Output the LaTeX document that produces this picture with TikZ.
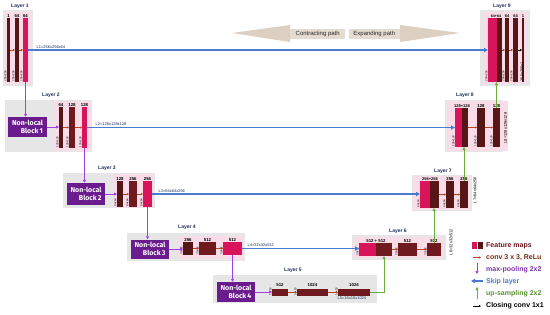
\documentclass[tikz,border=0pt]{standalone}
\usepackage{fontspec}
\setmainfont{Liberation Sans}
\newfontfamily\nlfont{Fira Sans}
\usetikzlibrary{arrows.meta}
\definecolor{boxgrey}{HTML}{E6E6E6}
\definecolor{halo}{HTML}{F9DCE7}
\definecolor{fdark}{HTML}{561616}
\definecolor{fmid}{HTML}{6E1A1E}
\definecolor{fcrim}{HTML}{D8145A}
\definecolor{nlpurple}{HTML}{6A1B8E}
\definecolor{poolc}{HTML}{A040E0}
\definecolor{skipc}{HTML}{4A7BD0}
\definecolor{upc}{HTML}{6AAE3A}
\definecolor{convc}{HTML}{B8441C}
\definecolor{navy}{HTML}{1E2C5C}
\definecolor{beige}{HTML}{DDCFC2}
\definecolor{beigel}{HTML}{E6DBD0}
\definecolor{legmaroon}{HTML}{6B1520}
\definecolor{legbrown}{HTML}{7A2A10}
\newcommand\fmbr[6]{\node[fmap,fill=#6,minimum width={(#4)-(#2)},minimum height={(#5)-(#3)}] (#1) at ({((#2)+(#4))/2},{((#3)+(#5))/2}) {};}
\newcommand\rlab[2]{\node[rotlab,anchor=south west] at (#1.south west) {#2};}
\newcommand\greybox[4]{\fill[boxgrey] (#1,#2) rectangle (#3,#4);}
\newcommand\halobox[4]{\fill[halo] (#1,#2) rectangle (#3,#4);}
\tikzset{
  fmap/.style={draw=none,inner sep=0pt,outer sep=0pt},
  layerlab/.style={font=\fontsize{5}{5}\selectfont\bfseries,text=navy,inner sep=0pt},
  numlab/.style={font=\fontsize{4.3}{4.3}\selectfont\bfseries,inner sep=0.4pt,anchor=south},
  cclab/.style={font=\fontsize{4}{4}\selectfont\bfseries,inner sep=0.4pt,anchor=south},
  llab/.style={font=\fontsize{4}{4}\selectfont,text=navy,inner sep=0.4pt},
  vlab/.style={font=\fontsize{4}{4}\selectfont,text=black,inner sep=0.4pt,rotate=90},
  rotlab/.style={font=\fontsize{2.8}{2.8}\selectfont,rotate=90,inner sep=0.3pt,text=black},
  nlb/.style={fill=nlpurple,text=white,font=\nlfont\bfseries\fontsize{7}{7.6}\selectfont,align=right,inner sep=1pt},
  poolline/.style={draw=poolc,line width=0.8pt,-{Triangle[length=3pt,width=3pt]}},
  skipline/.style={draw=skipc,line width=1.2pt,-{Triangle[length=4pt,width=4.2pt]}},
  upline/.style={draw=upc,line width=0.9pt,-{Triangle[length=3pt,width=3pt]}},
  convline/.style={draw=convc,line width=0.6pt,-{Triangle[length=2pt,width=2pt]}},
  closeline/.style={draw=black,line width=0.6pt,-{Triangle[length=2pt,width=2pt]}},
  legtext/.style={font=\fontsize{7}{7}\selectfont\bfseries,anchor=west,inner sep=0pt},
  pathlab/.style={fill=beigel,font=\fontsize{6}{6}\selectfont,text=black!85,inner sep=1pt,minimum height=10pt},
}
\begin{document}
\begin{tikzpicture}[x=1pt,y=-1pt]
\useasboundingbox (0,0) rectangle (550,314);
\fill[white] (0,0) rectangle (550,314);

% ---------- contracting / expanding arrows
\fill[beige] (232,33) -- (290,25) -- (290,42) -- cycle;
\fill[beige] (460,33) -- (400,25) -- (400,42) -- cycle;
\node[pathlab,anchor=west,minimum width=55pt] (contr) at (290,33.5) {Contracting path};
\node[pathlab,anchor=east,minimum width=51pt] (expa) at (400,33.5) {Expanding path};

% ---------- Layer 1
\greybox{3}{10}{33}{86}
\halobox{5}{12}{31}{84}
\node[layerlab] (lab1) at (20,6) {Layer 1};
\fmbr{b11}{7}{18}{10}{82}{fdark}
\fmbr{b12}{15}{18}{19}{82}{fdark}
\fmbr{b13}{23}{18}{28}{82}{fcrim}
\node[numlab] at (b11.north) {1};
\node[numlab] at (b12.north) {64};
\node[numlab] at (b13.north) {64};
\rlab{b11}{256x256}\rlab{b12}{256x256}\rlab{b13}{256x256}

% ---------- Layer 2
\greybox{5}{100}{92}{152}
\halobox{54}{101}{91}{151}
\node[layerlab] (lab2) at (51,95) {Layer 2};
\node[nlb,minimum width=39pt,minimum height=20pt] (nlb1) at (27.5,127) {Non-local\\Block\,1};
\fmbr{b21}{59}{107}{63}{148}{fdark}
\fmbr{b22}{69}{107}{75}{148}{fmid}
\fmbr{b23}{82}{107}{87}{148}{fcrim}
\node[numlab] at (b21.north) {64};
\node[numlab] at (b22.north) {128};
\node[numlab] at (b23.north) {128};
\rlab{b21}{128x128}\rlab{b22}{128x128}\rlab{b23}{128x128}

% ---------- Layer 3
\greybox{63}{173}{155}{208}
\halobox{113}{174}{154}{207.5}
\node[layerlab] (lab3) at (107,168) {Layer 3};
\node[nlb,minimum width=38pt,minimum height=22pt] (nlb2) at (86,194) {Non-local\\Block\,2};
\fmbr{b31}{117}{181}{123}{207}{fdark}
\fmbr{b32}{129}{181}{137}{207}{fmid}
\fmbr{b33}{143}{181}{152}{207}{fcrim}
\node[numlab] at (b31.north) {128};
\node[numlab] at (b32.north) {256};
\node[numlab] at (b33.north) {256};
\rlab{b31}{64x64}\rlab{b32}{64x64}\rlab{b33}{64x64}

% ---------- Layer 4
\greybox{127}{233}{245}{261}
\halobox{178}{236}{244}{259}
\node[layerlab] (lab4) at (187,227) {Layer 4};
\node[nlb,minimum width=38pt,minimum height=19pt] (nlb3) at (150,249) {Non-local\\Block\,3};
\fmbr{b41}{183}{242}{193}{255}{fdark}
\fmbr{b42}{199}{242}{216}{255}{fmid}
\fmbr{b43}{223}{242}{242}{255}{fcrim}
\node[numlab] at (b41.north) {256};
\node[numlab] at (b42.north) {512};
\node[numlab] at (b43.north) {512};
\rlab{b41}{32x32}\rlab{b42}{32x32}\rlab{b43}{32x32}

% ---------- Layer 5
\greybox{213}{275}{377}{303}
\node[layerlab] (lab5) at (293,270) {Layer 5};
\node[nlb,minimum width=38pt,minimum height=20pt] (nlb4) at (236,292) {Non-local\\Block\,4};
\fmbr{b51}{272}{289}{288}{296}{fmid}
\fmbr{b52}{297}{289}{328}{296}{fmid}
\fmbr{b53}{338}{289}{370}{296}{fmid}
\node[numlab] at ([yshift=1.5pt]b51.north) {512};
\node[numlab] at ([yshift=1.5pt]b52.north) {1024};
\node[numlab] at ([yshift=1.5pt]b53.north) {1024};
\rlab{b51}{16x16}\rlab{b52}{16x16}\rlab{b53}{16x16}
\node[llab,anchor=north west] (l5) at (337,296.5) {L5=16x16x1024};

% ---------- Layer 6
\greybox{352}{235}{446}{260}
\halobox{354}{237}{444}{258}
\node[layerlab] (lab6) at (398,231) {Layer 6};
\fmbr{c61a}{359}{243}{376}{256}{fcrim}
\fmbr{c61b}{376}{243}{392}{256}{fmid}
\fmbr{b62}{398}{243}{417}{256}{fmid}
\fmbr{b63}{427}{243}{441}{256}{fmid}
\node[numlab] at (c61a.north east) {512 + 512};
\node[numlab] at (b62.north) {512};
\node[numlab] at (b63.north) {512};
\rlab{c61a}{32x32}\rlab{b62}{32x32}\rlab{b63}{32x32}
\node[vlab] (l6) at (451,242) {L6=32x32x512};

% ---------- Layer 7
\greybox{412}{175}{472}{211}
\halobox{414}{176}{470}{210}
\node[layerlab] (lab7) at (443,171) {Layer 7};
\fmbr{c71a}{420}{181}{430}{208}{fcrim}
\fmbr{c71b}{430}{181}{439}{208}{fdark}
\fmbr{b72}{446}{181}{454}{208}{fdark}
\fmbr{b73}{460}{181}{468}{208}{fdark}
\node[cclab] at (c71a.north east) {256+256};
\node[numlab] at (b72.north) {256};
\node[numlab] at (b73.north) {256};
\rlab{c71a}{64x64}\rlab{b72}{64x64}\rlab{b73}{64x64}
\node[vlab] (l7) at (475,190) {L7=64x64x256};

% ---------- Layer 8
\greybox{445}{100}{503}{152}
\halobox{448}{101}{508}{151}
\node[layerlab] (lab8) at (465,95) {Layer 8};
\fmbr{c81a}{455}{108}{462}{147}{fcrim}
\fmbr{c81b}{462}{108}{468}{147}{fdark}
\fmbr{b82}{477}{108}{485}{147}{fdark}
\fmbr{b83}{493}{108}{500}{147}{fdark}
\node[cclab] at (c81a.north east) {128+128};
\node[numlab] at (b82.north) {128};
\node[numlab] at (b83.north) {128};
\rlab{c81a}{128x128}\rlab{b82}{128x128}\rlab{b83}{128x128}
\node[vlab] (l8) at (505.5,128) {L8=128x128x128};

% ---------- Layer 9
\greybox{480}{10}{530}{86}
\halobox{483}{12}{528}{84}
\node[layerlab] (lab9) at (502,6) {Layer 9};
\fmbr{c91a}{488}{18}{497}{82}{fcrim}
\fmbr{c91b}{497}{18}{502}{82}{fdark}
\fmbr{b92}{505}{18}{509}{82}{fdark}
\fmbr{b93}{513}{18}{518}{82}{fdark}
\fmbr{b94}{522}{18}{524}{82}{fdark}
\node[cclab,font=\fontsize{3.6}{3.6}\selectfont\bfseries] at ([xshift=-1pt]c91a.north east) {64+64};
\node[cclab] at (b92.north) {64};
\node[cclab] at (b93.north) {64};
\node[cclab] at (b94.north) {1};
\rlab{c91a}{256x256}\rlab{b92}{256x256}\rlab{b93}{256x256}
\node[vlab,anchor=south west] (l9) at (b94.south east) {256x256x1};

% ---------- conv arrows
\draw[convline] (b11.east) -- (b12.west);
\draw[convline] (b12.east) -- (b13.west);
\draw[convline] (b21.east) -- (b22.west);
\draw[convline] (b22.east) -- (b23.west);
\draw[convline] (b31.east) -- (b32.west);
\draw[convline] (b32.east) -- (b33.west);
\draw[convline] (b41.east) -- (b42.west);
\draw[convline] (b42.east) -- (b43.west);
\draw[convline] (b51.east) -- (b52.west);
\draw[convline] (b52.east) -- (b53.west);
\draw[convline] (c61b.east) -- (b62.west);
\draw[convline] (b62.east) -- (b63.west);
\draw[convline] (c71b.east) -- (b72.west);
\draw[convline] (b72.east) -- (b73.west);
\draw[convline] (c81b.east) -- (b82.west);
\draw[convline] (b82.east) -- (b83.west);
\draw[convline] (c91b.east) -- (b92.west);
\draw[convline] (b92.east) -- (b93.west);
\draw[closeline] (b93.east) -- (b94.west);

% ---------- max pooling
\draw[poolline] (b13.south) -- (b13.south |- nlb1.north);
\draw[poolline] (nlb1.east) -- (nlb1.east -| b21.west);
\draw[poolline] (b23.south) -- (b23.south |- nlb2.north);
\draw[poolline] (nlb2.east) -- (nlb2.east -| b31.west);
\draw[poolline] (b33.south) -- (b33.south |- nlb3.north);
\draw[poolline] (nlb3.east) -- (nlb3.east -| b41.west);
\draw[poolline] (b43.south) -- (b43.south |- nlb4.north);
\draw[poolline] (nlb4.east) -- (nlb4.east -| b51.west);

% ---------- skip connections
\draw[skipline] (b13.east) -- (b13.east -| c91a.west);
\node[llab,anchor=south west] (sl1) at ([xshift=8pt,yshift=1pt]b13.east) {L1=256x256x64};
\draw[skipline] (b23.east) -- (b23.east -| c81a.west);
\node[llab,anchor=south west] (sl2) at ([xshift=8pt,yshift=1pt]b23.east) {L2=128x128x128};
\draw[skipline] (b33.east) -- (b33.east -| c71a.west);
\node[llab,anchor=south west] (sl3) at ([xshift=6pt,yshift=1pt]b33.east) {L3=64x64x256};
\draw[skipline] (b43.east) -- (b43.east -| c61a.west);
\node[llab,anchor=south west] (sl4) at ([xshift=5pt,yshift=1pt]b43.east) {L4=32x32x512};

% ---------- up-sampling
\draw[upline] (b53.east) -| (c61b.south);
\draw[upline] (b63.north) -- (b63.north |- c71b.south);
\draw[upline] (b73.north) -- (b73.north |- c81b.south);
\draw[upline] (b83.north) -- (b83.north |- c91a.south);

% ---------- legend
\fmbr{lg1}{472}{242}{477}{249}{fcrim}
\fmbr{lg2}{478}{242}{483}{249}{fdark}
\node[legtext,text=legmaroon] (t1) at (486,245.5) {Feature maps};
\coordinate (a2s) at (473,257.5); \coordinate (a2e) at (481,257.5);
\draw[convline] (a2s) -- (a2e);
\node[legtext,text=legbrown] (t2) at (486,257.5) {conv 3 x 3, ReLu};
\coordinate (a3s) at (477,263); \coordinate (a3e) at (477,274);
\draw[poolline] (a3s) -- (a3e);
\node[legtext,text=poolc!80!black] (t3) at (486,269.5) {max-pooling 2x2};
\coordinate (a4s) at (483,281); \coordinate (a4e) at (471,281);
\draw[skipline] (a4s) -- (a4e);
\node[legtext,text=skipc] (t4) at (486,281.5) {Skip layer};
\coordinate (a5s) at (477,299); \coordinate (a5e) at (477,287);
\draw[upline] (a5s) -- (a5e);
\node[legtext,text=upc!85!black] (t5) at (486,293.5) {up-sampling 2x2};
\coordinate (a6s) at (473,306); \coordinate (a6e) at (481,306);
\draw[closeline] (a6s) -- (a6e);
\node[legtext,text=black] (t6) at (486,306) {Closing conv 1x1};
\end{tikzpicture}
\end{document}
